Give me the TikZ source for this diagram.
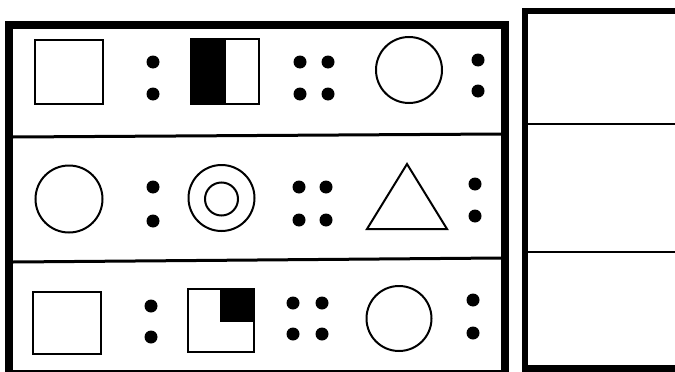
\documentclass[tikz,border=0pt]{standalone}
\usepackage{tikz}
\usetikzlibrary{calc}

\begin{document}
\begin{tikzpicture}[
  x=1pt, y=-1pt,
  frame/.style={line width=7.5pt},
  divider/.style={line width=3pt},
  figline/.style={line width=2pt},
  dot/.style={fill=black},
]
\useasboundingbox (0,0) rectangle (675,372);
\clip (0,0) rectangle (675,372);

% --- Left frame ---
\draw[frame] (9,380) -- (9,24.75) -- (505,24.75) -- (505,380);
\draw[frame] (9,373.75) -- (505,373.75);
\draw[divider] (13,137) -- (501,134);
\draw[divider] (13,262) -- (501,258);

% --- Right frame (answer slots) ---
\draw[line width=6.5pt] (690,10.75) -- (525,10.75) -- (525,368.25) -- (690,368.25);
\draw[line width=1.5pt] (528,124) -- (675,124);
\draw[line width=1.5pt] (528,252) -- (675,252);

% --- Row 1 ---
\draw[figline] (35,40) rectangle (103,104);
\fill (191,39) rectangle (226,104);
\draw[figline] (191,39) rectangle (259,104);
\draw[figline] (409,70) circle (33);

% --- Row 2 ---
\draw[figline] (69,199) circle (33.5);
\draw[figline] (221.5,198) circle (33);
\draw[figline] (221.5,199) circle (16.5);
\draw[figline, line join=miter] (407,164) -- (447,229) -- (367,229) -- cycle;

% --- Row 3 ---
\draw[figline] (33,292) rectangle (101,354);
\fill (220,289) rectangle (254,322);
\draw[figline] (188,289) rectangle (254,352);
\draw[figline] (399,318.5) circle (32.5);

% --- Dots ---
\foreach \x/\y in {153/62, 153/94, 300/62, 328/62, 300/94, 328/94, 478/60, 478/91,
                   153/187, 153/221, 299/187, 326/187, 299/220, 326/220, 475/184, 475/216,
                   151/306, 151/337, 293/303, 322/303, 293/334, 322/334, 473/300, 473/333}
  \fill[dot] (\x,\y) circle (6.5);

\end{tikzpicture}
\end{document}
